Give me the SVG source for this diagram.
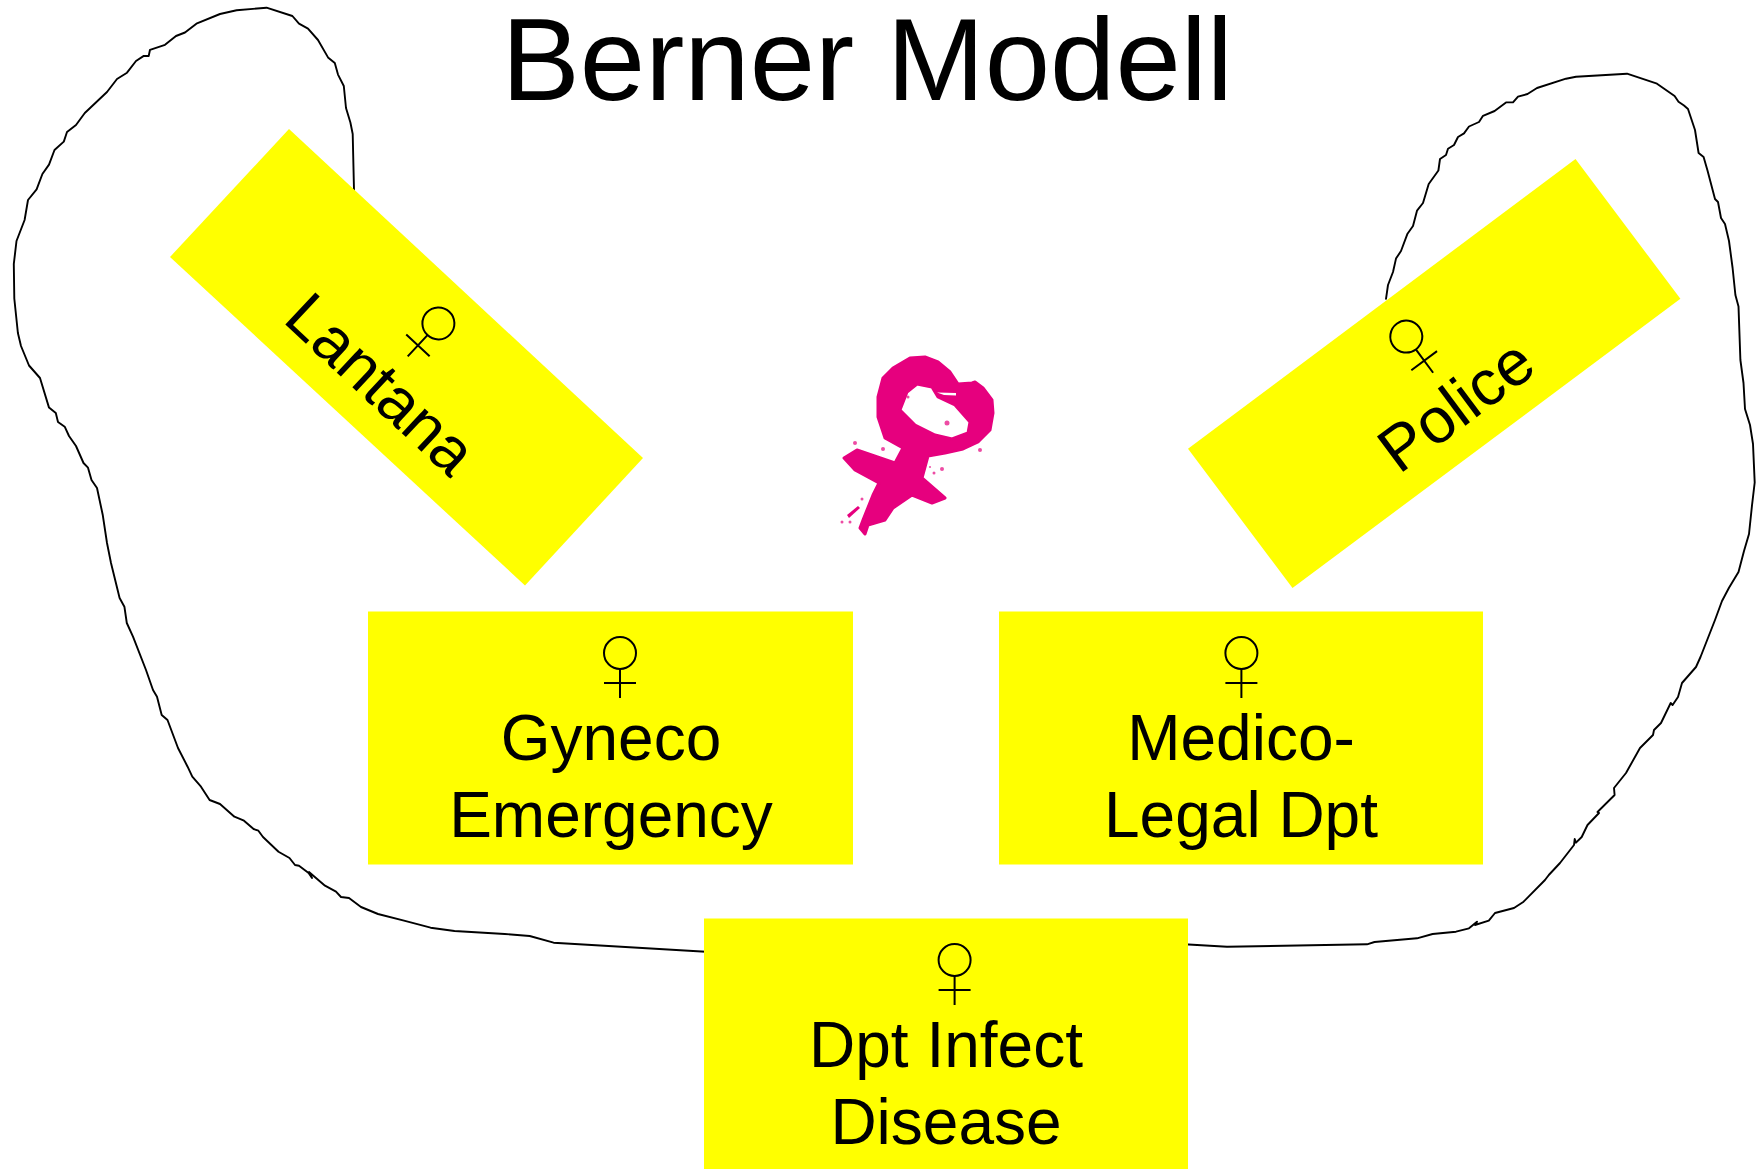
<svg xmlns="http://www.w3.org/2000/svg" width="1757" height="1169" viewBox="0 0 1757 1169">
<style>
.box{fill:#ffff00;stroke:none}
.lbl{font-family:"Liberation Sans",Arial,sans-serif;font-size:64px;fill:#000;text-anchor:middle}
.outline{fill:none;stroke:#000;stroke-width:1.9;stroke-linejoin:round;stroke-linecap:round}
.v{fill:none;stroke:#000;stroke-width:2}
</style>
<defs>
<g id="venus" class="v"><circle cx="0" cy="0" r="16"/><path d="M0 16V45M-16 30H16"/></g>
<filter id="soft" x="-5%" y="-5%" width="110%" height="110%"><feGaussianBlur stdDeviation=".7"/></filter>
</defs>
<rect width="1757" height="1169" fill="#fff"/>
<g id="connectors">
<path id="outline-left" class="outline" d="M354 190L352.7 134L350.4 122.5L346 108L343.8 86L338 74.6L334.8 63L328 57.4L318 40L308 28.7L299 23.7L292.4 16L266.5 7.7L236.6 10.3L220 14L196.4 23.7L185 32.5L176 36L165 44.8L150 49.8L148.7 56L143.8 55.9L136 61L127 72.7L117 79L107 92L84.8 113L76 125L67 132L63.8 141.6L54.5 150L49 164.6L42.4 174L36.6 189.4L28 200L24.6 220L16.5 241L13.8 264L14.3 298.5L17.9 333L21 346L29 365.5L40 378L49 407.6L55.8 413L58 422L64.7 426.7L69 436L76 446L83.5 463L88 467.7L91.5 480L97 488L102.7 514.7L107 543L111 563L119.6 598L124.4 606.7L126.8 623L133 636.7L146 670L153 690L157 696.7L161.7 715L167.5 720L178 748L187.6 766.7L192.3 776.7L201 786.7L209.6 800L220 804L234.4 816.7L244 820.7L253.6 829L258.4 830.7L263 837L278.5 851.7L289.5 858L295 865L299 865.7L308.6 873L312 878L309 872L325 885.7L336 891.7L341 897L349 898L361 907L378 914L404 920.7L430.6 927.7L454.5 931L504.8 934L529.7 936L553.6 942.7L710 952"/>
<path id="outline-right" class="outline" d="M1180 944L1227 946.7L1367 944.3L1374.5 942L1417 938.3L1432.6 934L1456 931.7L1469 928.3L1477 921.7L1475 925L1488.8 920.7L1495 913L1514 908L1523.6 901.7L1545 880L1548.8 875L1560 863L1574 845L1574.7 839L1576 842.7L1581.7 837L1587.5 825L1599 813L1597.5 812L1614.6 795L1614 788L1626 773L1640 748L1653 735L1654 730L1661 723L1670.7 703L1672.6 705L1678 697L1682 683L1696 667L1700.5 657L1715 620L1722 601L1729 587.7L1738.5 572L1744 551L1749 534L1752 505.4L1754.7 482.5L1753 444L1750 425L1745 409L1743.5 383L1740.4 360L1738.5 306.4L1735.4 295L1732.6 268L1729 241L1725 224L1721 218L1718 202L1715 199L1707.5 170.5L1703.6 157L1698.6 153L1695 130L1688 109L1684 105.5L1678.5 101.7L1674.6 96L1657 83.7L1627 73.7L1576 76.8L1566 78.7L1537 88L1527.5 94L1518 96.7L1513 102.4L1506 102.4L1494.6 111L1483 115.8L1479 122L1469 126.5L1464 133.4L1458 137L1454 145L1448 148.7L1446 155L1440 159L1438.4 170.5L1428.7 184L1423 203L1417 210.7L1413 226L1407.5 233.7L1401 251L1396 258.6L1393 272L1388 285L1386 298.8"/>
</g>
<text id="title" x="501.5" y="100" style="font-family:'Liberation Sans',Arial,sans-serif;font-size:117.5px" fill="#000">Berner Modell</text>
<g id="lantana">
<polygon class="box" points="289,129 643,458 525,585.5 170,257"/>
<use href="#venus" transform="translate(438.4 323.4) rotate(43)"/>
<text class="lbl" transform="translate(366 400) rotate(43)">Lantana</text>
</g>
<g id="police">
<polygon class="box" points="1575.5,159 1680.4,298.8 1292.5,588 1188,448.8"/>
<use href="#venus" transform="translate(1406.3 336.6) rotate(-36.6)"/>
<text class="lbl" transform="translate(1469 423) rotate(-36.6)">Police</text>
</g>
<g id="gyneco">
<rect class="box" x="368" y="611.5" width="485" height="253"/>
<use href="#venus" transform="translate(620 653)"/>
<text class="lbl" x="611" y="760">Gyneco</text>
<text class="lbl" x="611" y="837">Emergency</text>
</g>
<g id="medico">
<rect class="box" x="999" y="611.5" width="484" height="253"/>
<use href="#venus" transform="translate(1241.4 653)"/>
<text class="lbl" x="1241" y="760">Medico-</text>
<text class="lbl" x="1241" y="837">Legal Dpt</text>
</g>
<g id="infect">
<rect class="box" x="704" y="918.5" width="484" height="250.5"/>
<use href="#venus" transform="translate(954.6 960)"/>
<text class="lbl" x="946" y="1067">Dpt Infect</text>
<text class="lbl" x="946" y="1144">Disease</text>
</g>
<g id="logo" fill="#e6007e" filter="url(#soft)">
<path fill-rule="evenodd" stroke="#e6007e" stroke-width="3" stroke-linejoin="round" d="M903 448L885 438L878 417L878 397L883 378L893 368L910 358L925 357L938 362L950 372L958 384L972 383L975 382L983 388L992 400L993 413L990 430L978 442L963 449L945 453L928 456L922 478L945 498L932 503L912 495L893 508L885 520L868 525L865 534L860 528L863 520L873 495L879 483L855 470L844 458L857 450L895 463ZM900 410L907 392L917 384L932 387L938 397L955 405L970 422L968 433L952 439L935 435L915 425Z"/>
<path fill="#fff" d="M937 392.5L956 393L956 395.5L944 395Z"/>
<path d="M847 515L858 506L860 508L849 518Z"/>
<g opacity=".7">
<circle cx="855" cy="443" r="2"/><circle cx="883" cy="449" r="2"/><circle cx="886" cy="438" r="1.5"/><circle cx="980" cy="450" r="2"/><circle cx="947" cy="423" r="2.5"/><circle cx="908" cy="397" r="1.5"/><circle cx="942" cy="469" r="2"/><circle cx="934" cy="473" r="1.5"/><circle cx="930" cy="467" r="1"/><circle cx="862" cy="499" r="1.5"/><circle cx="842" cy="522" r="1.5"/><circle cx="850" cy="522" r="1.5"/>
</g>
</g>
</svg>
